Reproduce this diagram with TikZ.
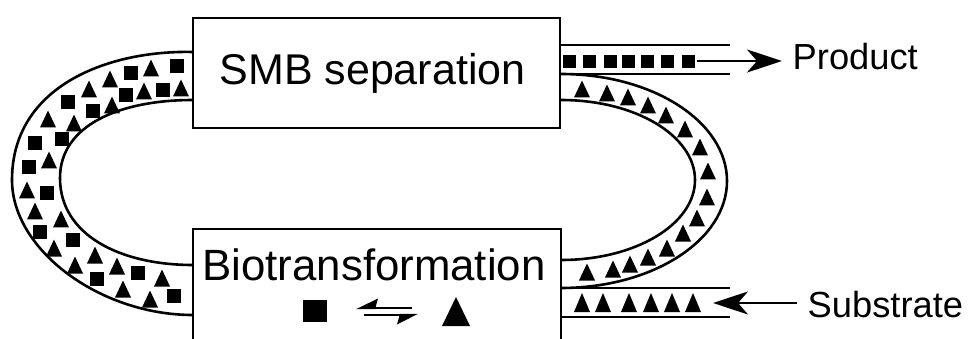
\documentclass[tikz,border=0pt]{standalone}
\usepackage{fontspec}
\setmainfont{Liberation Sans}
\usetikzlibrary{arrows.meta}
\begin{document}
\begin{tikzpicture}[x=1pt,y=-1pt,
  box/.style={draw, line width=2.5pt, inner sep=0pt},
  wall/.style={line width=2.6pt},
  bigtxt/.style={inner sep=0pt, anchor=base, font=\fontsize{43}{50}\selectfont},
  sidetxt/.style={inner sep=0pt, anchor=base west, font=\fontsize{36.3}{42}\selectfont},
  arr/.style={line width=2.5pt, -{Stealth[length=35pt, width=23pt, inset=10pt]}},
  harp/.style={line width=2.3pt}]
\useasboundingbox (0,0) rectangle (969,339);
\clip (0,0) rectangle (969,339);
% boxes
\node[box, minimum width=367pt, minimum height=110pt] (smb) at (376.5,73) {};
\node[box, minimum width=368pt, minimum height=160pt] (bio) at (377,309) {};
\node[bigtxt] (smbt) at (372.5,85) {SMB separation};
\node[bigtxt, font=\fontsize{43.8}{50}\selectfont] (biot) at (374,280) {Biotransformation};
\node[sidetxt] (prod) at (792.5,70) {Product};
\node[sidetxt] (sub) at (807.5,317) {Substrate};
% attachment points
\coordinate (lo1) at (193,52);  \coordinate (lo2) at (193,315);
\coordinate (li1) at (193,100); \coordinate (li2) at (193,265);
\coordinate (ro1) at (561,74);  \coordinate (ro2) at (561,288);
\coordinate (ri1) at (561,100); \coordinate (ri2) at (561,260);
% left loop
\draw[wall] (lo1) .. controls (110,50) and (12,85) .. (12,180)
                  .. controls (12,250) and (100,315) .. (lo2);
\draw[wall] (li1) .. controls (120,100) and (60,125) .. (60,178)
                  .. controls (60,235) and (120,265) .. (li2);
% right loop
\draw[wall] (ro1) .. controls (653,74) and (727,122) .. (727,181)
                  .. controls (727,240) and (653,288) .. (ro2);
\draw[wall] (ri1) .. controls (636,100) and (695,136) .. (695,180)
                  .. controls (695,224) and (636,260) .. (ri2);
% tubes
\draw[wall] (561,45) -- (730,45);
\draw[wall] (ro1) -- (730,74);
\draw[wall] (ro2) -- (730,288);
\draw[wall] (561,317) -- (730,317);
% arrows
\coordinate (pstart) at (697,61); \coordinate (ptip) at (782,61);
\coordinate (sstart) at (797,303); \coordinate (stip) at (713,303);
\draw[arr] (pstart) -- (ptip);
\draw[arr] (sstart) -- (stip);
% left loop particles
\foreach \x/\y in {177/66, 131/73, 163/90, 126/95, 68/102, 93/111, 35/143, 62/139,
  29/167, 47/193, 40/232, 73/240, 97/279, 138/273, 174/296}
  \fill (\x-7,\y-7) rectangle (\x+7,\y+7);
\foreach \x/\y in {151/68, 110/79, 89/89, 181/88, 144/91, 112/105, 48/119, 74/123,
  49/160, 27/190, 35/211, 61/219, 54/248, 95/255, 75/265, 117/266, 162/278, 123/289, 150/299}
  \fill (\x-8,\y+8.5) -- (\x+8,\y+8.5) -- (\x,\y-8.5) -- cycle;
% right loop particles
\foreach \x/\y in {582/89, 607/93, 628/97, 648/105, 666/115, 685/129, 700/147, 708/171,
  707/197, 697/218, 683/233, 667/248, 648/257, 630/264, 613/269, 587/272}
  \fill (\x-8,\y+8.5) -- (\x+8,\y+8.5) -- (\x,\y-8.5) -- cycle;
% product squares
\foreach \x in {569, 589, 610, 628, 647.5, 667.5, 688.5}
  \fill (\x-6.5,55) rectangle (\x+6.5,68);
% substrate triangles
\foreach \x in {582, 603, 629, 651, 672, 693}
  \fill (\x-8,312) -- (\x+8,312) -- (\x,293) -- cycle;
% reaction symbols
\fill (303,300) rectangle (327,322);
\fill (442,326) -- (470,326) -- (456,297) -- cycle;
\draw[harp] (370,308) -- (412,308);
\fill (356,309.2) -- (378,298.5) -- (375,309.2) -- cycle;
\draw[harp] (364,315) -- (405,315);
\fill (418,313.8) -- (397,324.5) -- (400,313.8) -- cycle;
\end{tikzpicture}
\end{document}
